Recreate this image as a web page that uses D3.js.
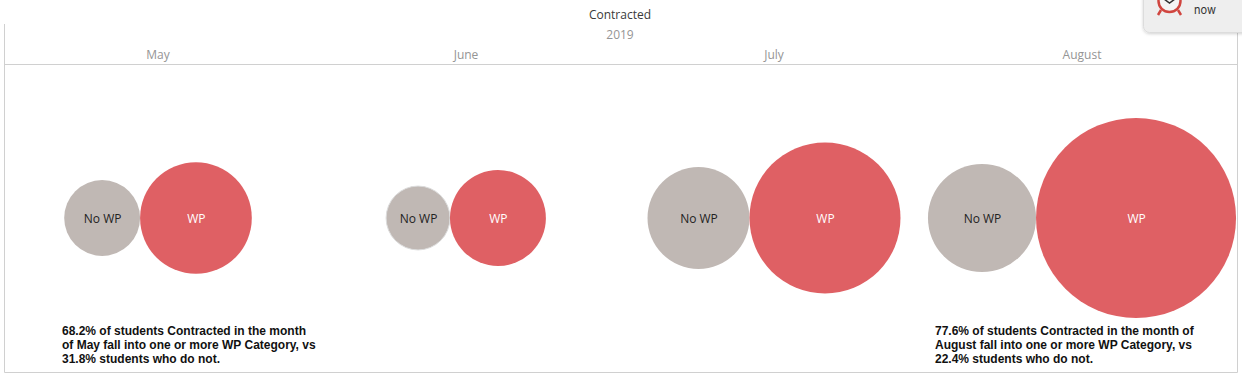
<!DOCTYPE html>
<html lang="en">
<head>
    <meta charset="UTF-8">
    <title>Contracted</title>
    <style>
        html, body {
            margin: 0;
            padding: 0;
            background: #fff;
        }

        svg {
            display: block;
        }

        .title {
            font-family: "Open Sans", sans-serif;
        }

        .note {
            font-family: "Liberation Sans", sans-serif;
            font-size: 12px;
            font-weight: bold;
            fill: #111;
        }
    </style>
</head>
<body>
<div id="chart"></div>

<script src="https://cdn.jsdelivr.net/npm/d3@7"></script>
<script>
    var months = ["May", "June", "July", "August"];
    // bubble sizes, no absolute counts are shown
    var noWpValues = [14.4, 10.2, 26, 29.2];
    var wpValues = [31.2, 23, 57, 100];
    var notes = [
        ["68.2% of students Contracted in the month", "of May fall into one or more WP Category, vs", "31.8% students who do not."],
        null,
        null,
        ["77.6% of students Contracted in the month of", "August fall into one or more WP Category, vs", "22.4% students who do not."]
    ];

    var width = 1242, height = 378;
    var centerY = 218;

    var svg = d3.select("#chart").append("svg")
        .attr("width", width)
        .attr("height", height);

    var defs = svg.append("defs");
    defs.append("filter").attr("id", "cardShadow")
        .attr("x", "-10%").attr("y", "-10%").attr("width", "120%").attr("height", "130%")
        .append("feDropShadow")
        .attr("dx", 0).attr("dy", 1).attr("stdDeviation", 1.5)
        .attr("flood-color", "#000").attr("flood-opacity", 0.18);

    var x = d3.scaleBand().domain(months).range([4, 1236]);
    var r = d3.scaleSqrt().domain([0, 100]).range([0, 100]);

    //frame
    var frame = svg.append("g").attr("fill", "none").attr("stroke", "#d0d0d0");
    frame.append("path").attr("d", "M4.5,24V372.5H1237.5V32");
    frame.append("line").attr("x1", 4).attr("x2", 1238).attr("y1", 64.5).attr("y2", 64.5);

    //headers
    svg.append("text").attr("class", "title")
        .attr("x", 620).attr("y", 19)
        .attr("text-anchor", "middle")
        .attr("font-size", 12).attr("fill", "#3a3a3a")
        .text("Contracted");
    svg.append("text").attr("class", "title")
        .attr("x", 620).attr("y", 39)
        .attr("text-anchor", "middle")
        .attr("font-size", 12).attr("fill", "#959595")
        .text("2019");

    var col = svg.selectAll("g.month")
        .data(months)
        .enter()
        .append("g")
        .attr("class", "month")
        .attr("transform", function (d) {
            return "translate(" + (x(d) + x.bandwidth() / 2) + ",0)";
        });

    col.append("text").attr("class", "title")
        .attr("y", 59)
        .attr("text-anchor", "middle")
        .attr("font-size", 12).attr("fill", "#959595")
        .text(function (d) { return d; });

    //each pair of bubbles touches and is centred on its month
    col.each(function (d, i) {
        var g = d3.select(this);
        var r0 = r(noWpValues[i]), r1 = r(wpValues[i]);
        var left = -(r0 + r1);

        var bubbles = [
            {label: "No WP", cx: left + r0, radius: r0, fill: "#c0b8b4", text: "#222"},
            {label: "WP", cx: left + 2 * r0 + r1, radius: r1, fill: "#df6064", text: "#fff"}
        ];

        g.selectAll("circle")
            .data(bubbles)
            .enter()
            .append("circle")
            .attr("cx", function (b) { return b.cx; })
            .attr("cy", centerY)
            .attr("r", function (b) { return b.radius; })
            .attr("fill", function (b) { return b.fill; })
            // the June No WP bubble has a pale ring in the picture
            .attr("stroke", function (b) { return d === "June" && b.label === "No WP" ? "#dcdcdc" : "none"; });

        g.selectAll("text.bubble")
            .data(bubbles)
            .enter()
            .append("text")
            .attr("class", "bubble title")
            .attr("x", function (b) { return b.cx + 0.5; })
            .attr("y", centerY + 5)
            .attr("text-anchor", "middle")
            .attr("font-size", 12)
            .attr("fill", function (b) { return b.text; })
            .text(function (b) { return b.label; });
    });

    //notes under May and August
    var noteX = {May: 62, August: 935};
    months.forEach(function (m, i) {
        if (!notes[i]) return;
        svg.append("text").attr("class", "note")
            .selectAll("tspan")
            .data(notes[i])
            .enter()
            .append("tspan")
            .attr("x", noteX[m])
            .attr("y", function (d, k) { return 335 + k * 14; })
            .text(function (d) { return d; });
    });

    //notification card cut off at the top right
    var card = svg.append("g");
    card.append("rect")
        .attr("x", 1143.5).attr("y", -10)
        .attr("width", 110).attr("height", 42.5)
        .attr("rx", 6)
        .attr("fill", "#eeeeee").attr("stroke", "#dcdcdc")
        .attr("filter", "url(#cardShadow)");
    card.append("path")
        .attr("d", "M1161,10L1158,15M1178,10L1181,15")
        .attr("stroke", "#d0453f").attr("stroke-width", 2.5);
    card.append("circle")
        .attr("cx", 1169.5).attr("cy", 1)
        .attr("r", 11)
        .attr("fill", "#f4f4f4").attr("stroke", "#d0453f").attr("stroke-width", 2.5);
    card.append("path")
        .attr("d", "M1164,-1L1169.5,3L1175,-1")
        .attr("fill", "none").attr("stroke", "#333").attr("stroke-width", 1.5);
    card.append("text")
        .attr("x", 1194).attr("y", 14)
        .attr("font-family", "Inter, sans-serif")
        .attr("font-size", 11).attr("fill", "#333")
        .text("now");
</script>
</body>
</html>
